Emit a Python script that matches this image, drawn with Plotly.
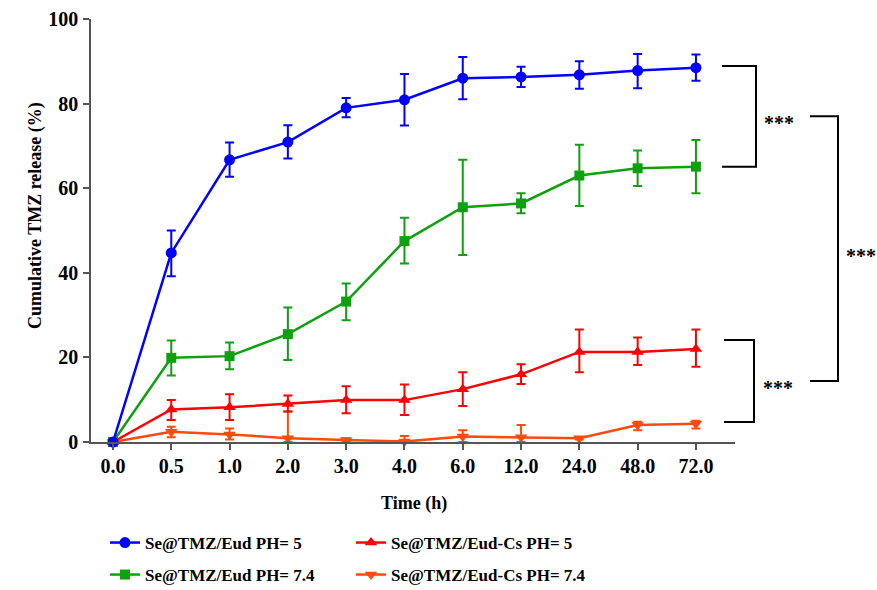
import plotly.graph_objects as go

times = ["0.0", "0.5", "1.0", "2.0", "3.0", "4.0", "6.0", "12.0", "24.0", "48.0", "72.0"]

names = ["Se@TMZ/Eud PH= 5", "Se@TMZ/Eud PH= 7.4", "Se@TMZ/Eud-Cs PH= 5", "Se@TMZ/Eud-Cs PH= 7.4"]

eud_ph5 = [0, 44.7, 66.7, 70.9, 79.0, 80.9, 86.0, 86.3, 86.8, 87.8, 88.5]
eud_ph5_up = [0, 5.3, 4.1, 4.0, 2.3, 6.1, 5.0, 2.4, 3.2, 3.9, 3.1]
eud_ph5_dn = [0, 5.5, 4.0, 3.9, 2.2, 6.1, 5.0, 2.4, 3.3, 4.2, 3.1]

eud_ph74 = [0, 19.9, 20.3, 25.5, 33.2, 47.5, 55.5, 56.4, 63.0, 64.7, 65.1]
eud_ph74_up = [0, 4.1, 3.2, 6.3, 4.3, 5.5, 11.2, 2.4, 7.3, 4.2, 6.3]
eud_ph74_dn = [0, 4.2, 3.1, 6.1, 4.4, 5.3, 11.3, 2.3, 7.2, 4.2, 6.3]

cs_ph5 = [0, 7.7, 8.2, 9.0, 9.9, 9.9, 12.5, 16.0, 21.3, 21.3, 22.0]
cs_ph5_up = [0, 2.2, 3.1, 2.0, 3.3, 3.7, 4.0, 2.4, 5.3, 3.4, 4.6]
cs_ph5_dn = [0, 2.5, 3.0, 1.8, 3.1, 3.5, 4.0, 2.3, 4.8, 3.1, 4.2]

cs_ph74 = [0, 2.4, 1.8, 0.9, 0.5, 0.1, 1.3, 1.1, 0.9, 4.0, 4.3]
cs_ph74_up = [0, 1.2, 1.4, 6.3, 0.3, 1.3, 1.5, 2.9, 0.3, 0.8, 0.7]
cs_ph74_dn = [0, 1.3, 1.2, 0.9, 0.3, 0.1, 1.3, 1.1, 0.3, 1.2, 1.1]

FONT = "Liberation Serif, Times New Roman, serif"

series = [
    # (values, up, dn, name, color, symbol, size, legend)
    (cs_ph74, cs_ph74_up, cs_ph74_dn, names[3], "#FF4A0A", "triangle-down", 11, "legend4"),
    (cs_ph5, cs_ph5_up, cs_ph5_dn, names[2], "#FF0000", "triangle-up", 11, "legend3"),
    (eud_ph74, eud_ph74_up, eud_ph74_dn, names[1], "#0FA00F", "square", 10, "legend2"),
    (eud_ph5, eud_ph5_up, eud_ph5_dn, names[0], "#0000FF", "circle", 11, "legend"),
]

fig = go.Figure()
for vals, up, dn, name, color, sym, size, leg in series:
    fig.add_trace(go.Scatter(
        x=times, y=vals, name=name, mode="lines+markers",
        line=dict(color=color, width=2.5),
        marker=dict(color=color, symbol=sym, size=size),
        error_y=dict(type="data", symmetric=False, array=up, arrayminus=dn,
                     color=color, thickness=2, width=4.5),
        legend=leg, cliponaxis=False,
    ))

W, H = 877, 590
L, R, T, B = 91, 142, 19, 148
pw, ph = W - L - R, H - T - B

def px_x(p):
    return (p - L) / pw

def px_y(p):
    return (H - B - p) / ph

legfont = dict(family=FONT, size=17, color="black", weight="bold")
leg_common = dict(font=legfont, bgcolor="rgba(0,0,0,0)", borderwidth=0,
                  xanchor="left", yanchor="middle", itemwidth=30)

layout_legends = {
    "legend": dict(x=px_x(105), y=px_y(543), **leg_common),
    "legend2": dict(x=px_x(105), y=px_y(575), **leg_common),
    "legend3": dict(x=px_x(351), y=px_y(543), **leg_common),
    "legend4": dict(x=px_x(351), y=px_y(575), **leg_common),
}

axis_color = "#555555"
fig.update_layout(
    width=W, height=H,
    margin=dict(l=L, r=R, t=T, b=B, autoexpand=False),
    plot_bgcolor="white", paper_bgcolor="white",
    showlegend=True,
    xaxis=dict(
        type="category", range=[-0.377, 10.67],
        showgrid=False, zeroline=False,
        showline=True, linecolor=axis_color, linewidth=1.5,
        ticks="outside", ticklen=6, tickwidth=1.5, tickcolor=axis_color,
        tickfont=dict(family=FONT, size=20, color="black", weight="bold"),
        ticklabelstandoff=-1,
    ),
    yaxis=dict(
        range=[0, 100], tickvals=[0, 20, 40, 60, 80, 100],
        showgrid=False, zeroline=False,
        showline=True, linecolor=axis_color, linewidth=1.5,
        ticks="outside", ticklen=6, tickwidth=1.5, tickcolor=axis_color,
        tickfont=dict(family=FONT, size=20, color="black", weight="bold"),
        ticklabelstandoff=1,
    ),
    **layout_legends,
)

titlefont = dict(family=FONT, size=18, color="black", weight="bold")
fig.add_annotation(text="Time (h)", xref="paper", yref="paper",
                   x=px_x(414), y=px_y(503), xanchor="center", yanchor="middle",
                   showarrow=False, font=titlefont)
fig.add_annotation(text="Cumulative TMZ release (%)", xref="paper", yref="paper",
                   x=px_x(35), y=px_y(216), xanchor="center", yanchor="middle",
                   textangle=-90, showarrow=False, font=titlefont)

# significance brackets, anchored to the final (72 h) values
b1_top, b1_bot = eud_ph5[-1] + 0.4, eud_ph74[-1]
b3_top, b3_bot = cs_ph5[-1] + 2.1, cs_ph74[-1] + 0.4
b2_top, b2_bot = (b1_top + b1_bot) / 2, (b3_top + b3_bot) / 2

def bracket(x0, x1, ytop, ybot):
    fig.add_shape(type="path", xref="paper", yref="y",
                  path=f"M {x0} {ytop} L {x1} {ytop} L {x1} {ybot} L {x0} {ybot}",
                  line=dict(color="black", width=2))

bracket(px_x(722), px_x(756), b1_top, b1_bot)
bracket(px_x(810), px_x(838), b2_top, b2_bot)
bracket(px_x(724), px_x(754), b3_top, b3_bot)

starfont = dict(family=FONT, size=20, color="black", weight="bold")
for xp, yv in [(762, (b1_top + b1_bot) / 2), (844, (b2_top + b2_bot) / 2), (761, (b3_top + b3_bot) / 2)]:
    fig.add_annotation(text="***", xref="paper", yref="y", x=px_x(xp), y=yv,
                       xanchor="left", yanchor="middle", yshift=-7,
                       showarrow=False, font=starfont)

fig.write_html("out.html", config={"displayModeBar": False})
